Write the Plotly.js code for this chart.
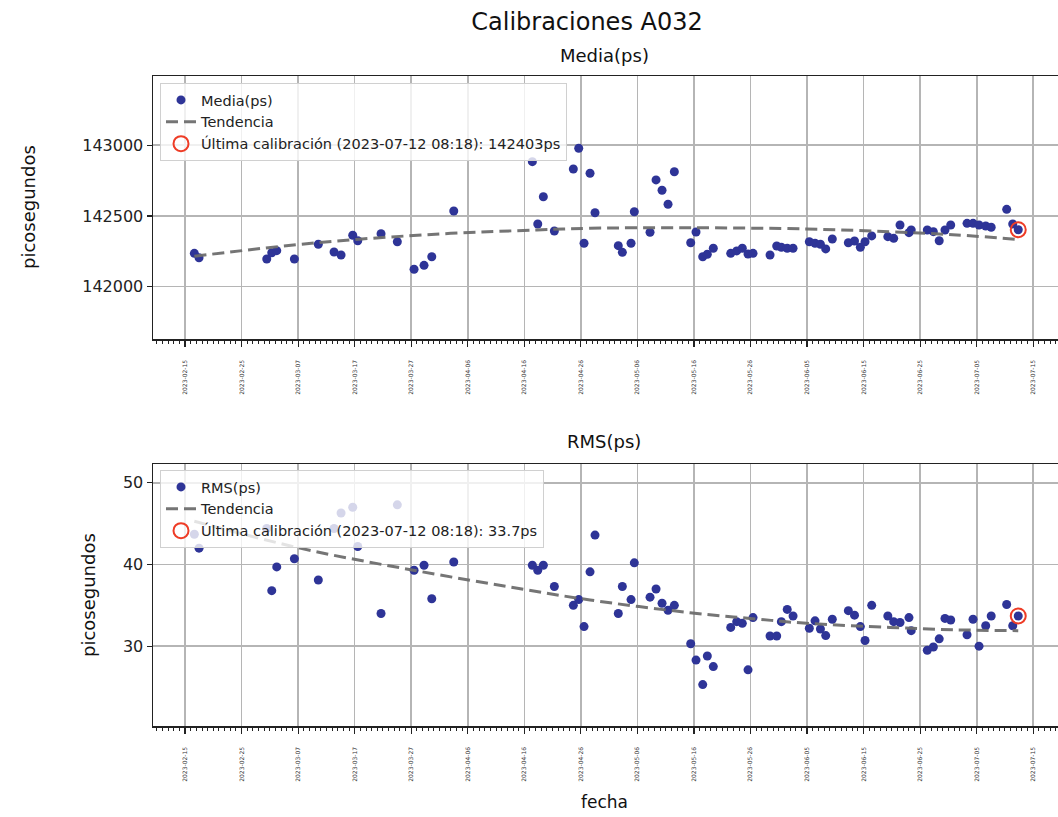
<!DOCTYPE html>
<html>
<head>
<meta charset="utf-8">
<script src="https://cdn.plot.ly/plotly-3.0.1.min.js"></script>
<style>html,body{margin:0;padding:0;background:#fff;overflow:hidden}#chart{width:1058px;height:817px}</style>
</head>
<body>
<div id="chart"></div>
<script>
const fechas = [
'2023-02-16 15:30','2023-02-17 11:25','2023-03-01 10:45','2023-03-02 08:00','2023-03-03 05:10','2023-03-06 08:00','2023-03-10 13:40','2023-03-13 08:25','2023-03-14 14:10','2023-03-16 15:40',
'2023-03-17 13:00','2023-03-21 15:50','2023-03-24 13:00','2023-03-27 12:00','2023-03-29 06:20','2023-03-30 15:10','2023-04-03 12:30','2023-04-17 10:00','2023-04-18 09:00','2023-04-19 08:40',
'2023-04-21 07:25','2023-04-24 16:00','2023-04-25 14:50','2023-04-26 13:25','2023-04-27 14:50','2023-04-28 12:00',
'2023-05-02 14:50','2023-05-03 08:00','2023-05-04 20:50','2023-05-05 10:50','2023-05-08 05:30','2023-05-09 07:00','2023-05-10 08:25','2023-05-11 09:50','2023-05-12 12:40','2023-05-15 10:10',
'2023-05-16 08:40','2023-05-17 13:10','2023-05-18 08:40','2023-05-19 10:05','2023-05-22 12:00','2023-05-23 13:25','2023-05-24 13:10','2023-05-25 13:25','2023-05-26 10:35','2023-05-29 10:50',
'2023-05-30 15:10','2023-05-31 10:50','2023-06-01 11:45','2023-06-02 12:30','2023-06-05 09:35','2023-06-06 09:50','2023-06-07 08:40','2023-06-08 07:10','2023-06-09 11:05','2023-06-12 07:10',
'2023-06-13 09:20','2023-06-14 10:05','2023-06-15 06:00','2023-06-16 10:20','2023-06-19 06:45','2023-06-20 07:40','2023-06-21 10:30','2023-06-23 00:30','2023-06-23 10:05','2023-06-26 06:15',
'2023-06-27 08:00','2023-06-28 08:50','2023-06-29 09:20','2023-06-30 09:40','2023-07-03 07:00','2023-07-04 08:25','2023-07-05 09:50','2023-07-06 14:10','2023-07-07 13:30','2023-07-10 07:15',
'2023-07-11 08:50','2023-07-12 08:18'];

const media = [
142236,142205,142196,142240,142255,142196,142300,142245,142224,142364,
142325,142375,142318,142123,142151,142212,142535,142884,142443,142636,
142394,142832,142979,142307,142802,142523,
142290,142243,142307,142530,142385,142755,142682,142583,142813,142311,
142387,142212,142229,142272,142236,142253,142272,142231,142236,142224,
142288,142279,142272,142272,142318,142307,142300,142267,142337,142311,
142323,142279,142318,142359,142354,142342,142436,142382,142401,142401,
142389,142325,142401,142436,142448,142448,142436,142429,142420,142547,
142443,142403];

const rms = [
43.7,42.0,44.4,36.8,39.7,40.7,38.1,44.4,46.3,47.0,
42.2,34.0,47.3,39.3,39.9,35.8,40.3,39.9,39.3,39.9,
37.3,35.0,35.7,32.4,39.1,43.6,
34.0,37.3,35.7,40.2,36.0,37.0,35.25,34.4,35.0,30.3,
28.3,25.3,28.8,27.5,32.3,33.0,32.8,27.1,33.5,31.25,
31.25,33.0,34.5,33.7,32.2,33.1,32.1,31.3,33.3,34.35,
33.8,32.4,30.7,35.0,33.7,33.0,32.9,33.5,31.9,29.5,
29.9,30.9,33.4,33.2,31.4,33.3,30.0,32.5,33.7,35.1,
32.5,33.7];

const tendMediaFechas = ['2023-02-16 15:30','2023-03-10 07:00','2023-04-01 02:00','2023-04-18 05:00','2023-04-27 15:00','2023-05-15 07:00','2023-06-04 22:00','2023-06-19 14:00','2023-07-01 12:00','2023-07-12 08:18'];
const tendMedia = [142215,142311,142373,142401,142413,142417,142408,142389,142366,142334];

const tendRmsFechas = ['2023-02-16 15:30','2023-03-07 08:00','2023-03-27 09:00','2023-04-16 10:00','2023-04-27 15:00','2023-05-15 07:00','2023-05-25 22:00','2023-06-04 22:00','2023-06-19 14:00','2023-07-01 12:00','2023-07-12 08:18'];
const tendRms = [45.3,42.0,39.3,36.9,35.65,34.1,33.4,32.8,32.3,32.0,31.9];

const ultimaFecha = ['2023-07-12 08:18'];
const ultimaMedia = [142403];
const ultimaRms = [33.7];

const tickLabels = ['2023-02-15','2023-02-25','2023-03-07','2023-03-17','2023-03-27','2023-04-06','2023-04-16','2023-04-26','2023-05-06','2023-05-16','2023-05-26','2023-06-05','2023-06-15','2023-06-25','2023-07-05','2023-07-15'];

const FONT = 'DejaVu Sans, sans-serif';
const PT = '#2e3497';
const RED = 'rgb(238,60,38)';
const TREND = 'rgba(110,110,110,0.95)';

const traces = [
  {x: fechas, y: media, type: 'scatter', mode: 'markers', name: 'Media(ps)', xaxis: 'x', yaxis: 'y',
   marker: {color: PT, size: 9}, legend: 'legend', legendgroup: 'a'},
  {x: tendMediaFechas, y: tendMedia, type: 'scatter', mode: 'lines', name: 'Tendencia', xaxis: 'x', yaxis: 'y',
   line: {color: TREND, width: 3, dash: '12px,6px', shape: 'spline'}, legend: 'legend', legendgroup: 'b'},
  {x: ultimaFecha, y: ultimaMedia, type: 'scatter', mode: 'markers', name: 'Última calibración (2023-07-12 08:18): 142403ps', xaxis: 'x', yaxis: 'y',
   marker: {color: 'rgba(0,0,0,0)', size: 15, line: {color: RED, width: 2}}, legend: 'legend', legendgroup: 'c'},
  {x: fechas, y: rms, type: 'scatter', mode: 'markers', name: 'RMS(ps)', xaxis: 'x2', yaxis: 'y2',
   marker: {color: PT, size: 9}, legend: 'legend2', legendgroup: 'd'},
  {x: tendRmsFechas, y: tendRms, type: 'scatter', mode: 'lines', name: 'Tendencia', xaxis: 'x2', yaxis: 'y2',
   line: {color: TREND, width: 3, dash: '12px,6px', shape: 'spline'}, legend: 'legend2', legendgroup: 'e'},
  {x: ultimaFecha, y: ultimaRms, type: 'scatter', mode: 'markers', name: 'Última calibración (2023-07-12 08:18): 33.7ps', xaxis: 'x2', yaxis: 'y2',
   marker: {color: 'rgba(0,0,0,0)', size: 15, line: {color: RED, width: 2}}, legend: 'legend2', legendgroup: 'f'}
];

const H = 817, L = 153, W = 905;
function py(p){ return 1 - p / H; }
function px(p){ return (p - L) / W; }

const xBase = {
  type: 'date',
  range: ['2023-02-09 08:00', '2023-07-19 09:00'],
  tickmode: 'array', tickvals: tickLabels, ticktext: tickLabels,
  tickangle: -90,
  tickfont: {family: FONT, size: 6, color: '#333'},
  ticklabelstandoff: 11,
  ticks: 'outside', ticklen: 6, tickwidth: 1.2, tickcolor: '#222',
  minor: {dtick: 86400000, tick0: '2023-02-15', ticks: 'outside', ticklen: 3, tickwidth: 1, tickcolor: '#222', showgrid: false},
  showgrid: true, gridcolor: '#b5b5b5', gridwidth: 1.6,
  showline: true, linecolor: '#222', linewidth: 1.5, mirror: true,
  zeroline: false, fixedrange: true
};
const yBase = {
  tickfont: {family: FONT, size: 16, color: '#222'},
  tickformat: 'd',
  ticks: 'outside', ticklen: 5, tickwidth: 1.2, tickcolor: '#222',
  showgrid: true, gridcolor: '#b5b5b5', gridwidth: 1.6,
  showline: true, linecolor: '#222', linewidth: 1.5, mirror: false,
  zeroline: false
};

const legBase = {
  bgcolor: 'rgba(255,255,255,0.8)', bordercolor: '#d0d0d0', borderwidth: 1,
  font: {family: FONT, size: 14.5, color: '#222'},
  xanchor: 'left', yanchor: 'top', tracegroupgap: 0, itemwidth: 30
};

const layout = {
  width: 1058, height: 817,
  margin: {l: L, r: 0, t: 0, b: 0},
  paper_bgcolor: '#fff', plot_bgcolor: '#fff',
  font: {family: FONT, color: '#222'},
  title: {text: 'Calibraciones A032', font: {family: FONT, size: 24, color: '#111'},
          xref: 'container', yref: 'container', x: 587/1058, xanchor: 'center', y: 1 - 22/H, yanchor: 'middle'},
  xaxis: Object.assign({}, xBase, {anchor: 'y', domain: [0, 1]}),
  yaxis: Object.assign({}, yBase, {anchor: 'x', domain: [py(339), py(76)], range: [141630, 143490], dtick: 500, tick0: 142000}),
  xaxis2: Object.assign({}, xBase, {anchor: 'y2', domain: [0, 1]}),
  yaxis2: Object.assign({}, yBase, {anchor: 'x2', domain: [py(726), py(464)], range: [20.23, 52.3], dtick: 10, tick0: 0}),
  legend: Object.assign({}, legBase, {x: px(160), y: py(83)}),
  legend2: Object.assign({}, legBase, {x: px(160), y: py(470)}),
  showlegend: true,
  annotations: [
    {text: 'Media(ps)', xref: 'paper', yref: 'paper', x: px(604), y: py(55), xanchor: 'center', yanchor: 'middle', showarrow: false, font: {family: FONT, size: 18, color: '#111'}},
    {text: 'RMS(ps)', xref: 'paper', yref: 'paper', x: px(604), y: py(441), xanchor: 'center', yanchor: 'middle', showarrow: false, font: {family: FONT, size: 18, color: '#111'}},
    {text: 'fecha', xref: 'paper', yref: 'paper', x: px(604), y: py(802), xanchor: 'center', yanchor: 'middle', showarrow: false, font: {family: FONT, size: 17, color: '#111'}},
    {text: 'picosegundos', xref: 'paper', yref: 'paper', x: px(28), y: py(207), xanchor: 'center', yanchor: 'middle', textangle: -90, showarrow: false, font: {family: FONT, size: 18, color: '#111'}},
    {text: 'picosegundos', xref: 'paper', yref: 'paper', x: px(88), y: py(595), xanchor: 'center', yanchor: 'middle', textangle: -90, showarrow: false, font: {family: FONT, size: 18, color: '#111'}}
  ]
};

Plotly.newPlot('chart', traces, layout, {displayModeBar: false, staticPlot: true});
</script>
</body>
</html>
